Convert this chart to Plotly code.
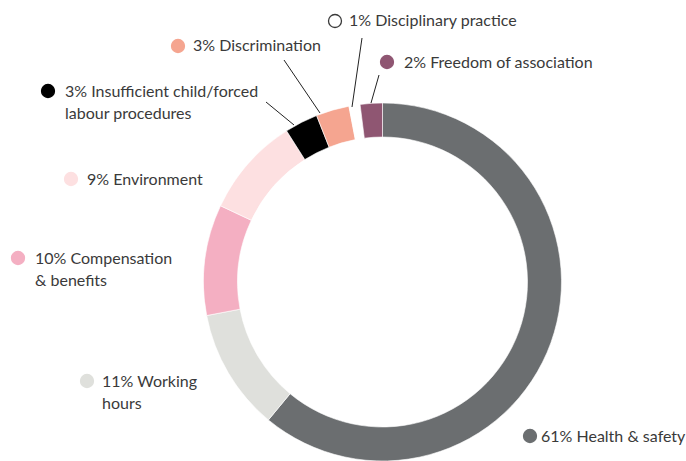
import plotly.graph_objects as go

# ---- data ----
categories = ["Health & safety", "Working hours", "Compensation & benefits", "Environment",
              "Insufficient child/forced labour procedures", "Discrimination",
              "Disciplinary practice", "Freedom of association"]
values = [61, 11, 10, 9, 3, 3, 1, 2]
colors = ["#6b6e70", "#dfe0dc", "#f4afc2", "#fde0e1", "#000000", "#f5a590", "#ffffff", "#8f5672"]
label_lines = [["Health & safety"], ["Working", "hours"], ["Compensation", "& benefits"],
               ["Environment"], ["Insufficient child/forced", "labour procedures"],
               ["Discrimination"], ["Disciplinary practice"], ["Freedom of association"]]

# ---- layout (pixel positions of labels) ----
W, H = 686, 461
dot_pos = [(530, 436), (87, 381), (18, 258), (71, 179), (48, 91), (178, 46), (335, 21), (387, 62)]
text_pos = [(541, 437), (102, 382), (35, 259), (87, 180), (65, 92), (193, 46), (349, 21), (404, 63)]
leaders = [None, None, None, None, ((266, 102), (294, 125)), ((284, 60), (320, 113)),
           ((362, 38), (352, 107)), ((379, 75), (371, 103))]
LINE_H = 22
FONT = "Lato, 'Open Sans', sans-serif"
TXT = "#3a3a3a"
DX, DY = -2, -2  # annotation padding compensation

cx, cy, R = 382.5, 282, 179

fig = go.Figure()
fig.add_trace(go.Pie(
    labels=categories, values=values, sort=False, direction="clockwise", rotation=0,
    hole=0.81, marker=dict(colors=colors, line=dict(color="#ffffff", width=0.6)),
    textinfo="none", hoverinfo="label+percent", showlegend=False,
    domain=dict(x=[(cx - R) / W, (cx + R) / W], y=[(H - (cy + R)) / H, (H - (cy - R)) / H]),
))

# legend dots
fig.add_trace(go.Scatter(
    x=[p[0] for p in dot_pos], y=[p[1] for p in dot_pos], mode="markers",
    marker=dict(size=13, color=colors,
                line=dict(color=["#3a3a3a" if c == "#ffffff" else c for c in colors], width=1.3)),
    hoverinfo="skip", showlegend=False, xaxis="x", yaxis="y",
))

annotations = []
shapes = []
for i, (v, lines) in enumerate(zip(values, label_lines)):
    tx, ty = text_pos[i]
    for j, ln in enumerate(lines):
        txt = f"{v}% {ln}" if j == 0 else ln
        annotations.append(dict(x=tx + DX, y=ty + DY + j * LINE_H, xref="x", yref="y", text=txt,
                                showarrow=False, xanchor="left", yanchor="middle",
                                font=dict(family=FONT, size=16, color=TXT)))
    if leaders[i]:
        (x0, y0), (x1, y1) = leaders[i]
        shapes.append(dict(type="line", xref="x", yref="y", x0=x0, y0=y0, x1=x1, y1=y1,
                           line=dict(color="#222222", width=1)))

fig.update_layout(
    width=W, height=H, margin=dict(l=0, r=0, t=0, b=0),
    paper_bgcolor="white", plot_bgcolor="rgba(0,0,0,0)",
    xaxis=dict(range=[0, W], visible=False, fixedrange=True, domain=[0, 1]),
    yaxis=dict(range=[H, 0], visible=False, fixedrange=True, domain=[0, 1]),
    annotations=annotations, shapes=shapes,
)

fig.write_html("out.html", config={"displayModeBar": False},
               post_script="document.body.style.margin='0';document.body.style.overflow='hidden';")
